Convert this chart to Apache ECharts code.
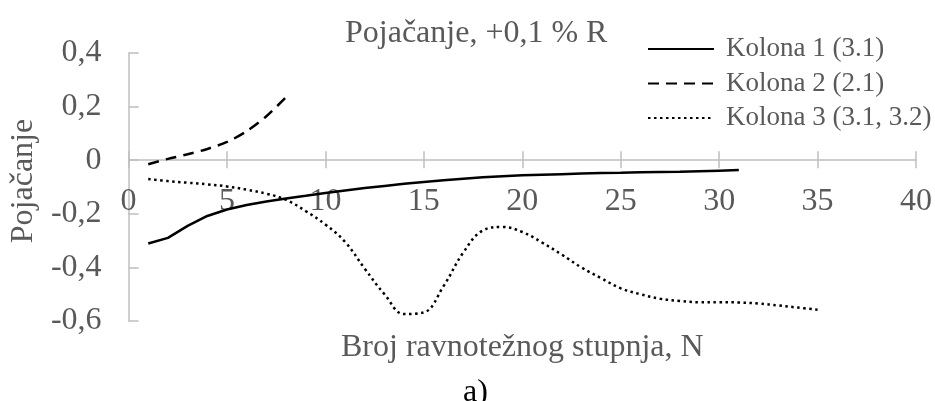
<!DOCTYPE html>
<html>
<head>
<meta charset="utf-8">
<script src="https://cdn.jsdelivr.net/npm/echarts@6/dist/echarts.min.js"></script>
<style>
  html, body { margin: 0; padding: 0; background: #fff; }
  #chart { width: 935px; height: 401px; }
</style>
</head>
<body>
<div id="chart"></div>
<script>
// Kolona 1 (3.1), N = 1..31
const kolona1X = [1, 2, 3, 4, 5, 6, 7, 8, 9, 10, 11, 12, 13, 14, 15, 16, 17, 18, 19, 20, 21, 22, 23, 24, 25, 26, 27, 28, 29, 30, 31];
const kolona1Y = [-0.311, -0.29, -0.245, -0.208, -0.184, -0.167, -0.154, -0.143, -0.133, -0.122, -0.113, -0.104, -0.096, -0.088, -0.081, -0.075, -0.069, -0.064, -0.06, -0.056, -0.054, -0.052, -0.05, -0.048, -0.047, -0.045, -0.044, -0.043, -0.041, -0.039, -0.037];

// Kolona 2 (2.1), N = 1..8
const kolona2X = [1, 2, 3, 4, 5, 6, 7, 8];
const kolona2Y = [-0.015, 0.005, 0.022, 0.042, 0.068, 0.108, 0.164, 0.235];

// Kolona 3 (3.1, 3.2), N = 1..35
const kolona3X = [1, 2, 3, 4, 5, 6, 7, 8, 9, 10, 11, 12, 13, 14, 15, 16, 17, 18, 19, 20, 21, 22, 23, 24, 25, 26, 27, 28, 29, 30, 31, 32, 33, 34, 35];
const kolona3Y = [-0.07, -0.078, -0.084, -0.09, -0.098, -0.11, -0.125, -0.148, -0.19, -0.24, -0.305, -0.405, -0.5, -0.574, -0.568, -0.47, -0.345, -0.262, -0.249, -0.268, -0.307, -0.352, -0.4, -0.44, -0.478, -0.5, -0.517, -0.525, -0.53, -0.53, -0.531, -0.535, -0.542, -0.55, -0.558];

const seriesNames = ['Kolona 1 (3.1)', 'Kolona 2 (2.1)', 'Kolona 3 (3.1, 3.2)'];
const titleText = 'Pojačanje, +0,1 % R';
const xName = 'Broj ravnotežnog stupnja, N';
const yName = 'Pojačanje';
const subLabel = 'a)';

const FONT = '"Liberation Serif", "Times New Roman", serif';
const GREY_TEXT = '#595959';
const GREY_AXIS = '#BFBFBF';

const Y_MIN = -0.6, Y_MAX = 0.4;
const GRID_TOP = 53, GRID_BOTTOM = 80, H = 401;

const pairs = (xs, ys) => xs.map((x, i) => [x, ys[i]]);
const fmt = v => (Math.abs(v) < 1e-9 ? '0' : v.toFixed(1).replace('.', ','));

// x axis sits on y = 0 (onZero is unreliable with two x axes, so shift it by offset)
const plotH = H - GRID_TOP - GRID_BOTTOM;
const zeroOffset = -plotH * (0 - Y_MIN) / (Y_MAX - Y_MIN);

const chart = echarts.init(document.getElementById('chart'));

chart.setOption({
    animation: false,
    backgroundColor: '#fff',
    title: [
        { text: titleText, left: 340, top: 13,
          textStyle: { fontFamily: FONT, fontSize: 32, fontWeight: 'normal', color: GREY_TEXT } },
        { text: xName, left: 336, top: 327,
          textStyle: { fontFamily: FONT, fontSize: 32, fontWeight: 'normal', color: GREY_TEXT } },
        { text: subLabel, left: 458, top: 372,
          textStyle: { fontFamily: FONT, fontSize: 32, fontWeight: 'normal', color: '#000' } }
    ],
    legend: {
        orient: 'vertical',
        left: 642,
        top: 29,
        itemWidth: 66,
        itemHeight: 14,
        itemGap: 4.5,
        data: seriesNames,
        itemStyle: { opacity: 0 },
        textStyle: { fontFamily: FONT, fontSize: 27, color: GREY_TEXT, lineHeight: 30, padding: [0, 0, 0, 7] }
    },
    grid: { left: 127, right: 18, top: GRID_TOP, bottom: GRID_BOTTOM },
    xAxis: [
        {
            type: 'value', min: 0, max: 40, interval: 5, position: 'bottom', offset: zeroOffset,
            axisLine: { onZero: false, lineStyle: { color: GREY_AXIS, width: 1.5 } },
            axisTick: { inside: false, length: 8, lineStyle: { color: GREY_AXIS, width: 1.5 } },
            axisLabel: { margin: 25, fontFamily: FONT, fontSize: 32, color: GREY_TEXT },
            splitLine: { show: false }
        },
        {
            type: 'value', min: 0, max: 40, interval: 5, position: 'bottom', offset: zeroOffset,
            axisLine: { onZero: false, show: false },
            axisTick: { inside: true, length: 9, lineStyle: { color: GREY_AXIS, width: 1.5 } },
            axisLabel: { show: false },
            splitLine: { show: false }
        }
    ],
    yAxis: {
        type: 'value', min: Y_MIN, max: Y_MAX, interval: 0.2,
        name: yName, nameLocation: 'middle', nameGap: 83,
        nameTextStyle: { fontFamily: FONT, fontSize: 32, color: GREY_TEXT, padding: [0, 0, 0, 12] },
        axisLine: { show: true, onZero: false, lineStyle: { color: GREY_AXIS, width: 1.5 } },
        axisTick: { show: true, inside: true, length: 10, lineStyle: { color: GREY_AXIS, width: 1.5 } },
        axisLabel: { margin: 27, fontFamily: FONT, fontSize: 32, color: GREY_TEXT, formatter: fmt },
        splitLine: { show: false }
    },
    series: [
        {
            name: seriesNames[0], type: 'line', data: pairs(kolona1X, kolona1Y),
            showSymbol: false, symbol: 'none', z: 3,
            lineStyle: { color: '#000', width: 2.5, type: 'solid' },
            itemStyle: { color: '#000' }
        },
        {
            name: seriesNames[1], type: 'line', data: pairs(kolona2X, kolona2Y),
            showSymbol: false, symbol: 'none', smooth: 0.3,
            lineStyle: { color: '#000', width: 2.5, type: [11, 7] },
            itemStyle: { color: '#000' }
        },
        {
            name: seriesNames[2], type: 'line', data: pairs(kolona3X, kolona3Y),
            showSymbol: false, symbol: 'none', smooth: 0.4,
            lineStyle: { color: '#000', width: 2.5, type: [2.5, 3.5] },
            itemStyle: { color: '#000' }
        }
    ]
});
</script>
</body>
</html>
